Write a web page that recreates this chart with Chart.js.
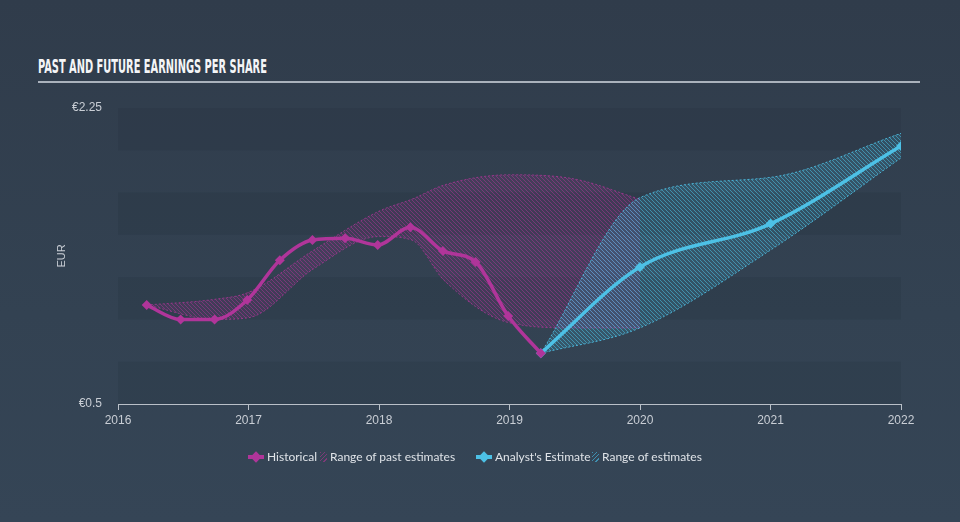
<!DOCTYPE html>
<html>
<head>
<meta charset="utf-8">
<script src="https://cdn.jsdelivr.net/npm/chart.js@4.4.1/dist/chart.umd.min.js"></script>
<style>
  html, body { margin: 0; padding: 0; }
  body {
    width: 960px; height: 522px; position: relative; overflow: hidden;
    background: linear-gradient(180deg, #303c4b 0%, #334252 60%, #354556 100%);
    font-family: Lato, "Open Sans", sans-serif;
  }
  #title {
    position: absolute; left: 38px; top: 55px;
    font-family: "Liberation Sans Narrow", "DejaVu Sans Condensed", sans-serif;
    font-stretch: condensed; font-weight: bold; font-size: 19px;
    color: #f4f5f7; white-space: nowrap; transform-origin: 0 0;
  }
  #rule { position: absolute; left: 38px; top: 81px; width: 882px; height: 2px; background: #aab2bc; }
  #chart { position: absolute; left: 0; top: 0; }
  #legend { position: absolute; top: 449px; left: 0; width: 960px; height: 18px; font-size: 12px; color: #dfe3e8; }
  #legend > span { position: absolute; top: 0; line-height: 16px; white-space: nowrap; }
  .mk { width: 16px; height: 4px; margin-top: 6px; }
  .mk::after { content: ''; position: absolute; left: 4px; top: -2px; width: 8px; height: 8px; background: inherit; transform: rotate(45deg); }
  .ht { width: 7px; height: 10px; margin-top: 3px; }
</style>
</head>
<body>
<div id="title">PAST AND FUTURE EARNINGS PER SHARE</div>
<div id="rule"></div>
<canvas id="chart" width="960" height="522"></canvas>
<div id="legend">
  <span class="mk" style="left:248px;background:#b0359a"></span>
  <span style="left:267px">Historical</span>
  <span class="ht" style="left:320px;background:repeating-linear-gradient(135deg,#7d3a78 0 1px,transparent 1px 3px)"></span>
  <span style="left:330px">Range of past estimates</span>
  <span class="mk" style="left:476px;background:#4dc1e6"></span>
  <span style="left:495px">Analyst's Estimate</span>
  <span class="ht" style="left:592px;background:repeating-linear-gradient(135deg,#3f8fb0 0 1px,transparent 1px 3px)"></span>
  <span style="left:602px">Range of estimates</span>
</div>
<script>
// values (EUR per share, x = fractional year)
const histX = [2016.22, 2016.48, 2016.74, 2016.99, 2017.24, 2017.49, 2017.74, 2017.99, 2018.24, 2018.49, 2018.74, 2018.99, 2019.24];
const histEps = [1.085, 1.0, 1.0, 1.115, 1.35, 1.47, 1.48, 1.44, 1.545, 1.405, 1.34, 1.02, 0.80];

const pastRangeX = [2016.22, 2016.75, 2017.0, 2017.5, 2018.0, 2018.25, 2018.5, 2019.0, 2019.5, 2020.0];
const pastHigh = [1.085, 1.12, 1.16, 1.41, 1.64, 1.71, 1.795, 1.855, 1.83, 1.71];
const pastLow = [1.085, 1.0, 1.01, 1.30, 1.49, 1.47, 1.23, 0.98, 0.95, 0.95];

const estX = [2019.24, 2020, 2021, 2022];
const estEps = [0.80, 1.31, 1.565, 2.025];
const estHigh = [0.80, 1.72, 1.84, 2.10];
const estLow = [0.80, 0.95, 1.41, 1.955];

const yearTicks = [2016, 2017, 2018, 2019, 2020, 2021, 2022];
const yTickLabels = { '2.25': '€2.25', '0.5': '€0.5' };

const magenta = '#b0359a';
const cyan = '#4dc1e6';

// fit the title width to the reference
const t = document.getElementById('title');
t.style.transform = 'scaleX(' + (229 / t.offsetWidth) + ')';

function pts(xs, ys) {
  return xs.map((x, i) => ({ x: x, y: ys[i] }));
}

function hatch(base, line) {
  const c = document.createElement('canvas');
  c.width = 4; c.height = 4;
  const g = c.getContext('2d');
  g.fillStyle = base;
  g.fillRect(0, 0, 4, 4);
  g.strokeStyle = line;
  g.lineWidth = 1;
  g.beginPath();
  g.moveTo(0, 0); g.lineTo(4, 4);
  g.moveTo(-1, 3); g.lineTo(1, 5);
  g.moveTo(3, -1); g.lineTo(5, 1);
  g.stroke();
  return g.createPattern(c, 'repeat');
}

const bands = {
  id: 'bands',
  beforeDraw(chart) {
    const { ctx, chartArea, scales } = chart;
    const ys = scales.y;
    ctx.save();
    const ticks = ys.ticks.map(tk => tk.value).sort((a, b) => b - a);
    for (let i = 0; i < ticks.length - 1; i++) {
      if (i % 2 === 0) {
        const top = ys.getPixelForValue(ticks[i]);
        const bot = ys.getPixelForValue(ticks[i + 1]);
        ctx.fillStyle = 'rgba(20,30,42,0.1)';
        ctx.fillRect(chartArea.left, top, chartArea.right - chartArea.left, bot - top);
      }
    }
    ctx.restore();
  }
};

const bandStyle = (col, fillPat) => ({
  type: 'line',
  borderColor: col,
  borderWidth: 1,
  borderDash: [2, 2],
  pointRadius: 0,
  cubicInterpolationMode: 'monotone',
  backgroundColor: fillPat
});

new Chart(document.getElementById('chart'), {
  type: 'line',
  data: {
    datasets: [
      {
        label: 'Historical',
        data: pts(histX, histEps),
        borderColor: magenta,
        backgroundColor: magenta,
        borderWidth: 3.5,
        pointStyle: 'rectRot',
        pointRadius: 5,
        pointBorderWidth: 0,
        cubicInterpolationMode: 'monotone',
        fill: false,
        order: 0
      },
      {
        label: "Analyst's Estimate",
        data: pts(estX, estEps),
        borderColor: cyan,
        backgroundColor: cyan,
        borderWidth: 3.5,
        pointStyle: 'rectRot',
        pointRadius: 5,
        pointBorderWidth: 0,
        cubicInterpolationMode: 'monotone',
        fill: false,
        order: 0
      },
      Object.assign(bandStyle('rgba(176,53,154,0.75)', null), {
        label: 'past low', data: pts(pastRangeX, pastLow), fill: false, order: 3
      }),
      Object.assign(bandStyle('rgba(176,53,154,0.75)', hatch('rgba(176,53,154,0.14)', 'rgba(176,53,154,0.5)')), {
        label: 'Range of past estimates', data: pts(pastRangeX, pastHigh), fill: '-1', order: 3
      }),
      Object.assign(bandStyle('rgba(77,193,230,0.85)', null), {
        label: 'est low', data: pts(estX, estLow), fill: false, order: 2
      }),
      Object.assign(bandStyle('rgba(77,193,230,0.85)', hatch('rgba(77,193,230,0.16)', 'rgba(77,193,230,0.55)')), {
        label: 'Range of estimates', data: pts(estX, estHigh), fill: '-1', order: 2
      })
    ]
  },
  options: {
    responsive: false,
    animation: false,
    layout: { padding: { top: 108, right: 59, left: 0, bottom: 0 } },
    plugins: {
      legend: { display: false },
      tooltip: { enabled: false }
    },
    scales: {
      x: {
        type: 'linear',
        min: 2016,
        max: 2022,
        afterBuildTicks: (s) => { s.ticks = yearTicks.map(v => ({ value: v })); },
        afterFit: (s) => { s.height = 118; },
        ticks: {
          color: '#c9ced5',
          font: { size: 12 },
          padding: 3,
          maxRotation: 0,
          callback: (v) => String(v)
        },
        grid: { drawOnChartArea: false, drawTicks: true, tickLength: 6, color: '#b9c0c8' },
        border: { display: true, color: '#b9c0c8', width: 1 }
      },
      y: {
        min: 0.5,
        max: 2.25,
        afterFit: (s) => { s.width = 118; },
        ticks: {
          stepSize: 0.25,
          color: '#c9ced5',
          font: { size: 12 },
          padding: 16,
          callback: (v) => yTickLabels[String(Math.round(v * 100) / 100)] || ''
        },
        grid: { display: false, drawTicks: false },
        border: { display: false },
        title: {
          display: true,
          text: 'EUR',
          color: '#c9ced5',
          font: { size: 11 },
          padding: { top: 55, bottom: 0 }
        }
      }
    }
  },
  plugins: [bands]
});
</script>
</body>
</html>
